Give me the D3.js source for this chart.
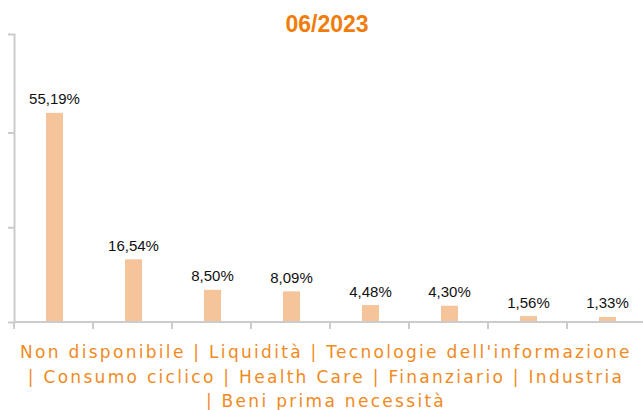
<!DOCTYPE html>
<html><head><meta charset="utf-8">
<script src="https://cdn.jsdelivr.net/npm/d3@7"></script>
<style>body{margin:0;background:#fff}svg{display:block}</style>
</head><body><svg id="c" width="643" height="410"></svg>
<script>
const title = "06/2023";
const categories = ["Non disponibile","Liquidità","Tecnologie dell'informazione","Consumo ciclico","Health Care","Finanziario","Industria","Beni prima necessità"];
const values = [55.19,16.54,8.50,8.09,4.48,4.30,1.56,1.33];
const valueLabels = ["55,19%","16,54%","8,50%","8,09%","4,48%","4,30%","1,56%","1,33%"];
const yTicks = [25,50];
const legendLines = ["Non disponibile | Liquidità | Tecnologie dell'informazione","| Consumo ciclico | Health Care | Finanziario | Industria","| Beni prima necessità"];

const svg = d3.select("#c");
const mLeft = 14, mRight = 646, mTop = 34, mBottom = 322;
const x = d3.scaleBand().domain(categories).range([mLeft, mRight]).paddingInner(0).paddingOuter(0);
const y = d3.scaleLinear().domain([0,76]).range([mBottom, mTop]);
const axisColor = "#cccccc";

svg.append("text").attr("x",327).attr("y",32).attr("text-anchor","middle")
  .attr("font-family","Liberation Sans, Arial, sans-serif").attr("font-weight","bold")
  .attr("font-size",23).attr("fill","#f07d0a").text(title);

const yAxis = svg.append("g").attr("transform",`translate(${mLeft},0)`)
  .call(d3.axisLeft(y).tickValues(yTicks).tickSize(6).tickSizeOuter(6).tickFormat(""));
yAxis.selectAll("path,line").attr("stroke",axisColor).attr("stroke-width",2);

const xAxis = svg.append("g").attr("transform",`translate(0,${mBottom})`)
  .call(d3.axisBottom(x).tickSize(0).tickFormat(""));
xAxis.select("path").attr("stroke",axisColor).attr("stroke-width",2).attr("d",`M${mLeft},0H643`);
svg.append("g").selectAll("line").data(categories).join("line")
  .attr("x1",d=>x(d)).attr("x2",d=>x(d)).attr("y1",mBottom).attr("y2",mBottom+7)
  .attr("stroke",axisColor).attr("stroke-width",2);

const bw = 17;
svg.append("g").selectAll("rect").data(values).join("rect")
  .attr("x",(d,i)=>x(categories[i])+x.bandwidth()/2-bw/2+1)
  .attr("y",d=>y(d)).attr("width",bw).attr("height",d=>mBottom-1-y(d))
  .attr("fill","#f5c49b");

svg.append("g").selectAll("text").data(values).join("text")
  .attr("x",(d,i)=>x(categories[i])+x.bandwidth()/2+1)
  .attr("y",d=>y(d)-8.5).attr("text-anchor","middle")
  .attr("font-family","Liberation Sans, Arial, sans-serif").attr("font-size",15).attr("fill","#111")
  .text((d,i)=>valueLabels[i]);

svg.append("g").selectAll("text").data(legendLines).join("text")
  .attr("x",326).attr("y",(d,i)=>358+i*24.5).attr("text-anchor","middle")
  .attr("font-family","DejaVu Sans, sans-serif").attr("font-size",17).attr("letter-spacing",2.3)
  .attr("fill","#f08a1e")
  .text(d=>d);
</script></body></html>
